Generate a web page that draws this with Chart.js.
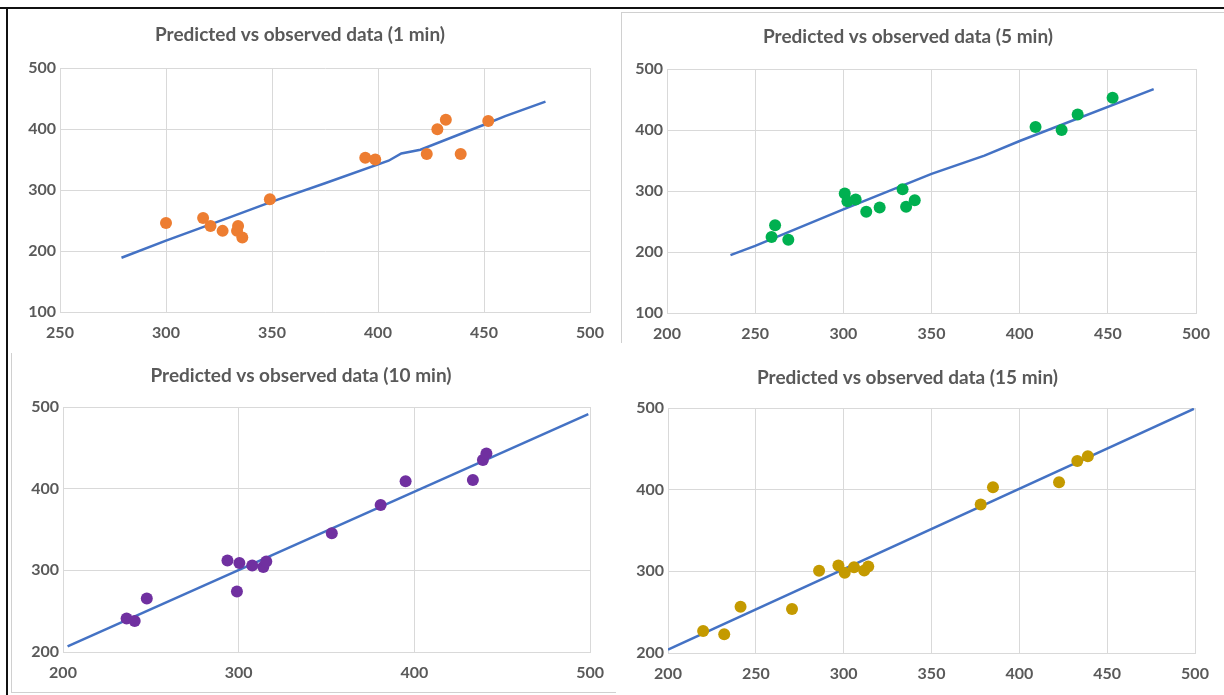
<!DOCTYPE html>
<html>
<script src="https://cdn.jsdelivr.net/npm/chart.js@4/dist/chart.umd.min.js"></script>
<style>
  body { margin: 0; background: #fff; width: 1224px; height: 695px; overflow: hidden; position: relative; }
  .box { position: absolute; }
  canvas { position: absolute; }
</style>
<body>

<div class="box" style="left:0;top:7px;width:1224px;height:2px;background:#111"></div>
<div class="box" style="left:6px;top:7px;width:2px;height:688px;background:#111"></div>
<div class="box" style="left:621px;top:12px;width:603px;height:330px;border-top:1px solid #d0d0d0;border-left:1px solid #d0d0d0"></div>
<div class="box" style="left:11px;top:353px;width:604px;height:339px;border-bottom:1px solid #d0d0d0;border-left:1px solid #d0d0d0"></div>

<canvas id="c1" width="605" height="335" style="left:10px;top:10px"></canvas>
<canvas id="c2" width="604" height="335" style="left:620px;top:12px"></canvas>
<canvas id="c3" width="605" height="340" style="left:10px;top:350px"></canvas>
<canvas id="c4" width="604" height="340" style="left:620px;top:350px"></canvas>

<script>
// 1 min
var obs1x = [300, 317.5, 321, 326.7, 334, 333.5, 336, 349, 394, 398.7, 423, 428, 432, 439, 452];
var obs1y = [246, 254, 241, 233, 241, 233, 222, 285, 353, 350, 359, 399.5, 415, 359, 413];
var line1x = [279, 300, 330, 350, 375, 405, 411, 420, 450, 460, 479];
var line1y = [189, 217, 255, 281, 311, 348, 360, 366, 407, 421, 445];

// 5 min
var obs2x = [259.3, 261.3, 268.8, 300.8, 302.3, 307, 313, 320.6, 333.6, 335.6, 340.5, 409, 423.8, 432.9, 452.7];
var obs2y = [224.5, 244, 220, 296, 283, 286, 266, 273, 303, 274, 285, 405, 400, 425.5, 453];
var line2x = [236, 250, 300, 350, 380, 400, 476];
var line2y = [195, 210, 270, 328, 358, 382, 467];

// 10 min
var obs3x = [236.2, 240.8, 247.7, 293.6, 300.4, 299, 307.7, 314, 315.7, 353, 380.8, 395, 433.3, 439, 441];
var obs3y = [241, 238, 265.6, 312, 309, 274, 306, 304, 310.8, 345.5, 380, 409, 410.7, 435, 443];
var line3x = [202.6, 499];
var line3y = [207, 491.4];

// 15 min
var obs4x = [220, 232, 241.3, 270.6, 286, 297, 300.6, 305.9, 311.7, 314, 378, 385, 422.6, 433, 439];
var obs4y = [227, 223, 256.5, 254, 300.8, 307, 298.4, 305, 301, 306, 381.7, 403, 409, 435, 441];
var line4x = [200, 499.4];
var line4y = [204, 499];

var titles = ['Predicted vs observed data (1 min)', 'Predicted vs observed data (5 min)',
  'Predicted vs observed data (10 min)', 'Predicted vs observed data (15 min)'];
var dotColors = ['#ED7D31', '#00B050', '#7030A0', '#C49A00'];
var lineColor = '#4472C4';

function pts (xs, ys) {
  var out = [];
  for (var i = 0; i < xs.length; i++) out.push({x: xs[i], y: ys[i]});
  return out;
}

var grey = '#595959';
var gridCol = '#d9d9d9';
var titleSize = 19;
var tickFont = { family: 'Lato', size: 16, weight: 'bold' };

// area = [left, right, top, bottom, titleTop] inside the canvas
function makeChart (id, n, ox, oy, lx, ly, xr, xstep, yr, ystep, area) {
  var cv = document.getElementById(id);
  var W = cv.width, H = cv.height;
  new Chart(cv, {
    type: 'scatter',
    data: {
      datasets: [
        {
          data: pts(lx, ly),
          showLine: true,
          borderColor: lineColor,
          borderWidth: 2.5,
          pointRadius: 0,
          tension: 0,
          order: 2
        },
        {
          data: pts(ox, oy),
          backgroundColor: dotColors[n],
          borderColor: dotColors[n],
          pointRadius: 6,
          pointBorderWidth: 0,
          order: 1
        }
      ]
    },
    options: {
      responsive: false,
      animation: false,
      layout: { padding: { left: 0, right: W - area[1], top: 0, bottom: 0 } },
      plugins: {
        legend: { display: false },
        tooltip: { enabled: false },
        title: {
          display: true,
          text: titles[n],
          color: grey,
          font: { family: 'Lato', size: titleSize, weight: 'bold' },
          padding: { top: area[4], bottom: area[2] - titleSize * 1.2 - area[4] }
        }
      },
      scales: {
        x: {
          type: 'linear',
          min: xr[0], max: xr[1],
          ticks: { stepSize: xstep, color: grey, padding: 11, font: tickFont },
          grid: { color: gridCol, lineWidth: 1, drawTicks: false },
          border: { color: gridCol },
          afterFit: function (s) { s.height = H - area[3]; }
        },
        y: {
          type: 'linear',
          min: yr[0], max: yr[1],
          ticks: { stepSize: ystep, color: grey, padding: 4, font: tickFont },
          grid: { color: gridCol, lineWidth: 1, drawTicks: false },
          border: { color: gridCol },
          afterFit: function (s) { s.width = area[0]; }
        }
      }
    }
  });
}

makeChart('c1', 0, obs1x, obs1y, line1x, line1y, [250, 500], 50, [100, 500], 100, [50, 580, 58, 302, 13.6]);
makeChart('c2', 1, obs2x, obs2y, line2x, line2y, [200, 500], 50, [100, 500], 100, [47, 576, 57, 301, 13.2]);
makeChart('c3', 2, obs3x, obs3y, line3x, line3y, [200, 500], 100, [200, 500], 100, [53, 582, 57, 302, 14.2]);
makeChart('c4', 3, obs4x, obs4y, line4x, line4y, [200, 500], 50, [200, 500], 100, [48, 575, 58, 303, 16.2]);
</script>

</body>
</html>
